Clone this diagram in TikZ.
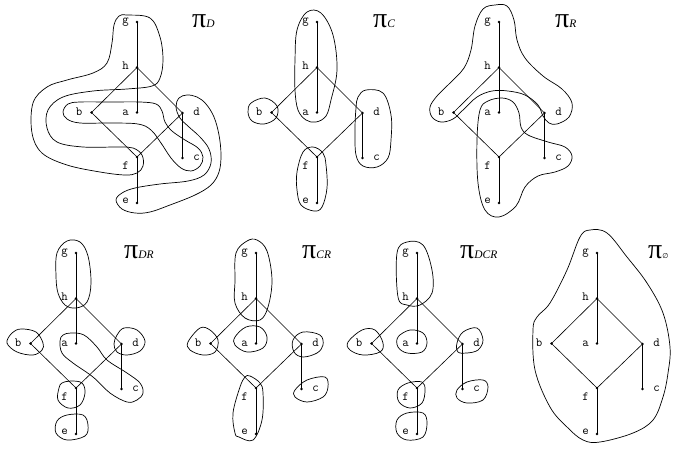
\documentclass[tikz,border=0pt]{standalone}
\usepackage{fontspec}
\newfontfamily\titf{Liberation Serif}
\newfontfamily\djv{DejaVu Sans}
\newcommand\poset[1]{%
  \node[dot] (#1g) at (137,22) {};
  \node[dot] (#1h) at (137,67.5) {};
  \node[dot] (#1a) at (137,112.5) {};
  \node[dot] (#1b) at (91.5,112.5) {};
  \node[dot] (#1d) at (182.5,113) {};
  \node[dot] (#1c) at (182.5,158) {};
  \node[dot] (#1f) at (137,157) {};
  \node[dot] (#1e) at (137,203) {};
  \draw[edge] (#1g.center) -- (#1h.center);
  \draw[edge] (#1h.center) -- (#1a.center);
  \draw[edge] (#1h.center) -- (#1b.center);
  \draw[edge] (#1h.center) -- (#1d.center);
  \draw[edge] (#1b.center) -- (#1f.center);
  \draw[edge] (#1d.center) -- (#1f.center);
  \draw[edge] (#1d.center) -- (#1c.center);
  \draw[edge] (#1f.center) -- (#1e.center);
  \node[lab] (#1lg) at (125.5,23) {g};
  \node[lab] (#1lh) at (125.5,69) {h};
  \node[lab] (#1la) at (125.5,115.5) {a};
  \node[lab] (#1lb) at (79,115.5) {b};
  \node[lab] (#1ld) at (196.5,115.5) {d};
  \node[lab] (#1lc) at (196.5,160.5) {c};
  \node[lab] (#1lf) at (125.5,169) {f};
  \node[lab] (#1le) at (125.5,203.5) {e};
}
\begin{document}
\begin{tikzpicture}[x=1pt,y=-1pt,
  dot/.style={circle,fill=black,inner sep=0pt,minimum size=2.8pt},
  edge/.style={line width=0.6pt},
  blob/.style={line width=0.7pt},
  lab/.style={font=\ttfamily\fontsize{12.5}{13}\selectfont,inner sep=0pt,anchor=base},
  ttl/.style={anchor=base west,inner sep=0pt}]
\useasboundingbox (0,0) rectangle (675,451);
\newcommand\pit[1]{{\titf\fontsize{28}{28}\selectfont π\fontsize{11.5}{11.5}\selectfont\itshape #1}}
% ---------- pi_D
\begin{scope}
  \poset{D}
  \draw[blob] plot[smooth cycle,tension=0.6] coordinates {(127,15) (150,18) (160,37) (163,60) (160,78) (152,86) (127,89) (93,91) (63,97) (48,110) (47,128) (57,142) (83,147) (118,147) (133,148) (142,155) (143,166) (137,173) (125,175) (100,172) (67,165) (42,153) (32,133) (33,103) (47,87) (67,80) (93,73) (107,63) (112,43) (114,25) (119,16)};
  \draw[blob] plot[smooth cycle,tension=0.6] coordinates {(63,112) (68,104) (80,102) (110,102) (140,102) (156,104) (162,111) (165,122) (172,131) (185,140) (198,148) (203,157) (200,166) (191,171) (181,168) (171,158) (161,143) (151,130) (138,124) (110,123) (80,123) (67,119)};
  \draw[blob] plot[smooth cycle,tension=0.6] coordinates {(122,193) (135,188) (160,184) (188,181) (204,175) (211,163) (209,149) (200,137) (189,127) (180,118) (176,107) (179,98) (187,95) (197,97) (206,104) (214,117) (219,135) (221,155) (219,172) (211,185) (195,195) (170,205) (150,212) (135,213) (122,209) (116,200)};
  \node[ttl] (tD) at (192,27) {\pit{D}};
\end{scope}
% ---------- pi_C
\begin{scope}[shift={(180,0)}]
  \poset{C}
  \draw[blob] plot[smooth cycle,tension=0.6] coordinates {(127,12) (117,30) (115,60) (115,90) (118,110) (126,120) (136,122) (146,116) (151,100) (157,70) (153,35) (141,13)};
  \draw[blob] plot[smooth cycle,tension=0.6] coordinates {(68,112) (71,103) (85,98) (97,106) (96,118) (84,124) (72,121)};
  \draw[blob] plot[smooth cycle,tension=0.6] coordinates {(178,97) (186,90) (203,93) (211,115) (211,140) (208,158) (197,167) (183,166) (176,155) (175,130) (176,108)};
  \draw[blob] plot[smooth cycle,tension=0.6] coordinates {(123,152) (133,147) (143,153) (146,165) (147,188) (142,207) (134,211) (121,205) (117,190) (117,172)};
  \node[ttl] (tC) at (193,27) {\pit{C}};
\end{scope}
% ---------- pi_R
\begin{scope}[shift={(362,0)}]
  \poset{R}
  \draw[blob] plot[smooth cycle,tension=0.6] coordinates {(133,5) (145,6) (152,20) (155,40) (163,58) (181,76) (200,89) (210,103) (207,117) (195,124) (187,123) (181,116) (176,105) (163,95) (146,91) (130,91) (115,97) (101,110) (91,119) (79,122) (70,117) (68,107) (75,96) (88,83) (102,68) (109,50) (113,26) (121,9)};
  \draw[blob] plot[smooth cycle,tension=0.6] coordinates {(118,110) (126,101) (140,98) (151,102) (157,113) (159,127) (166,135) (186,142) (203,147) (210,156) (206,166) (193,172) (176,176) (163,187) (154,206) (137,217) (123,210) (116,183) (115,140)};
  \node[ttl] (tR) at (193,27) {\pit{R}};
\end{scope}
% ---------- pi_DR
\begin{scope}[shift={(-61,231)}]
  \poset{DR}
  \draw[blob] plot[smooth cycle,tension=0.6] coordinates {(118,22) (117,45) (119,62) (126,74) (137,77) (148,71) (152,52) (149,25) (141,11) (128,10)};
  \draw[blob] plot[smooth cycle,tension=0.6] coordinates {(68,112) (73,102) (82,98) (97,101) (104,112) (103,119) (94,124) (78,121)};
  \draw[blob] plot[smooth cycle,tension=0.6] coordinates {(121,110) (124,104) (132,102) (145,104) (158,116) (168,129) (188,142) (201,152) (204,162) (198,169) (188,171) (171,162) (154,146) (134,132) (123,122)};
  \draw[blob] plot[smooth cycle,tension=0.6] coordinates {(175,113) (178,104) (185,97) (198,99) (206,110) (201,120) (188,124) (178,121)};
  \draw[blob] plot[smooth cycle,tension=0.6] coordinates {(120,157) (123,152) (132,150) (143,152) (146,162) (141,174) (129,177) (119,169)};
  \draw[blob] plot[smooth cycle,tension=0.6] coordinates {(118,190) (128,184) (144,184) (149,194) (146,205) (128,209) (117,202)};
  \node[ttl] (tDR) at (185,27) {\pit{DR}};
\end{scope}
% ---------- pi_CR
\begin{scope}[shift={(119,231)}]
  \poset{CR}
  \draw[blob] plot[smooth cycle,tension=0.6] coordinates {(128,10) (117,22) (116,50) (116,72) (126,87) (141,89) (149,76) (153,49) (148,20) (138,9)};
  \draw[blob] plot[smooth cycle,tension=0.6] coordinates {(116,106) (127,96) (141,96) (148,106) (144,117) (128,121) (116,114)};
  \draw[blob] plot[smooth cycle,tension=0.6] coordinates {(69,111) (81,97) (91,99) (99,109) (96,121) (84,124) (71,119)};
  \draw[blob] plot[smooth cycle,tension=0.6] coordinates {(174,109) (184,101) (201,104) (204,114) (198,122) (184,126) (175,121)};
  \draw[blob] plot[smooth cycle,tension=0.6] coordinates {(176,159) (188,149) (206,146) (209,156) (204,166) (188,171) (176,166)};
  \draw[blob] plot[smooth cycle,tension=0.6] coordinates {(126,146) (131,145) (141,152) (144,162) (143,189) (134,209) (120,206) (116,202) (114,182) (121,156)};
  \node[ttl] (tCR) at (183,27) {\pit{CR}};
\end{scope}
% ---------- pi_DCR
\begin{scope}[shift={(280,231)}]
  \poset{DCR}
  \draw[blob] plot[smooth cycle,tension=0.6] coordinates {(127,11) (117,22) (118,66) (127,74) (140,74) (152,62) (152,39) (143,14)};
  \draw[blob] plot[smooth cycle,tension=0.6] coordinates {(68,111) (82,99) (95,99) (103,112) (100,121) (83,124) (70,119)};
  \draw[blob] plot[smooth cycle,tension=0.6] coordinates {(118,106) (130,99) (143,102) (147,112) (142,121) (127,122) (118,116)};
  \draw[blob] plot[smooth cycle,tension=0.6] coordinates {(177,112) (183,101) (197,97) (203,109) (198,119) (187,122) (178,121)};
  \draw[blob] plot[smooth cycle,tension=0.6] coordinates {(177,159) (187,151) (203,149) (208,156) (203,169) (187,172) (177,167)};
  \draw[blob] plot[smooth cycle,tension=0.6] coordinates {(118,159) (128,152) (142,151) (145,159) (142,172) (130,177) (119,171)};
  \draw[blob] plot[smooth cycle,tension=0.6] coordinates {(117,189) (127,182) (143,182) (147,192) (143,206) (127,209) (117,202)};
  \node[ttl] (tDCR) at (180,27) {\pit{DCR}};
\end{scope}
% ---------- pi_empty
\begin{scope}[shift={(460,231)}]
  \poset{E}
  \draw[blob] plot[smooth cycle,tension=0.6] coordinates {(130,-1) (120,6) (107,39) (90,72) (77,86) (73,99) (75,139) (90,176) (107,196) (123,209) (140,211) (173,202) (193,189) (203,166) (208,142) (210,116) (203,82) (187,52) (167,26) (147,2)};
  \node[ttl] (tE) at (188,27) {{\titf\fontsize{28}{28}\selectfont π}{\djv\fontsize{7}{7}\selectfont ∅}};
\end{scope}
\end{tikzpicture}
\end{document}
